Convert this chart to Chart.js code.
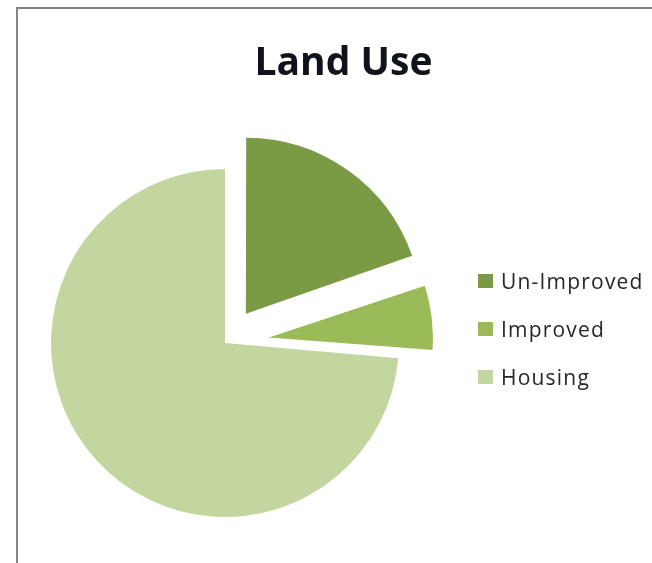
<!doctype html>
<html lang="en">
<head>
<meta charset="UTF-8">
<title>Land Use</title>
<script src="https://cdn.jsdelivr.net/npm/chart.js@4.4.1/dist/chart.umd.min.js"></script>
<style>
  html, body { margin: 0; padding: 0; background: #fff; overflow: hidden; }
  #frame {
    position: absolute; left: 16px; top: 7px; width: 700px; height: 620px;
    border-left: 2px solid #858585; border-top: 2px solid #858585;
  }
  #holder { position: absolute; left: 0; top: 0; width: 652px; height: 563px; }
  #title {
    position: absolute; left: 0; top: 40px; width: 687px; margin: 0;
    text-align: center; font: bold 39px/39px "Open Sans", sans-serif; color: #12121c;
  }
  #legend {
    position: absolute; left: 478px; top: 257px; margin: 0; padding: 0;
    list-style: none; font: 21px "Open Sans", sans-serif; color: #262630; letter-spacing: 1.2px;
  }
  #legend li { height: 48px; display: flex; align-items: center; white-space: nowrap; }
  #legend .box { width: 15px; height: 14px; margin-right: 8px; }
</style>
</head>
<body>
  <div id="frame"></div>
  <div id="holder"><canvas id="pie"></canvas></div>
  <h1 id="title">Land Use</h1>
  <ul id="legend"></ul>
<script>
// share of land per use, percent
const categories = ['Un-Improved', 'Improved', 'Housing'];
const shares = [19.7, 6.7, 73.6];

const config = {
  type: 'pie',
  data: {
    labels: categories,
    datasets: [{
      data: shares,
      backgroundColor: ['#7a9a43', '#9bbb59', '#c4d6a0'],
      // white edge on the small slice keeps it clear of its neighbours
      borderColor: '#ffffff',
      borderWidth: [0, 8, 0],
      borderJoinStyle: 'miter',
      // arcs are pulled out by a quarter of this value
      offset: [144, 96, 0],
      hoverOffset: 0,
      radius: 174
    }]
  },
  options: {
    responsive: true,
    maintainAspectRatio: false,
    animation: false,
    events: [],
    layout: { padding: { left: 0, right: 202, top: 123, bottom: 0 } },
    plugins: {
      legend: { display: false },
      title: { display: false },
      tooltip: { enabled: false }
    }
  }
};

const chart = new Chart(document.getElementById('pie'), config);

// legend list built from the chart's own labels and colours
const ds = chart.data.datasets[0];
const list = document.getElementById('legend');
chart.data.labels.forEach(function (label, i) {
  const li = document.createElement('li');
  const box = document.createElement('span');
  box.className = 'box';
  box.style.background = ds.backgroundColor[i];
  li.appendChild(box);
  li.appendChild(document.createTextNode(label));
  list.appendChild(li);
});
</script>
</body>
</html>
